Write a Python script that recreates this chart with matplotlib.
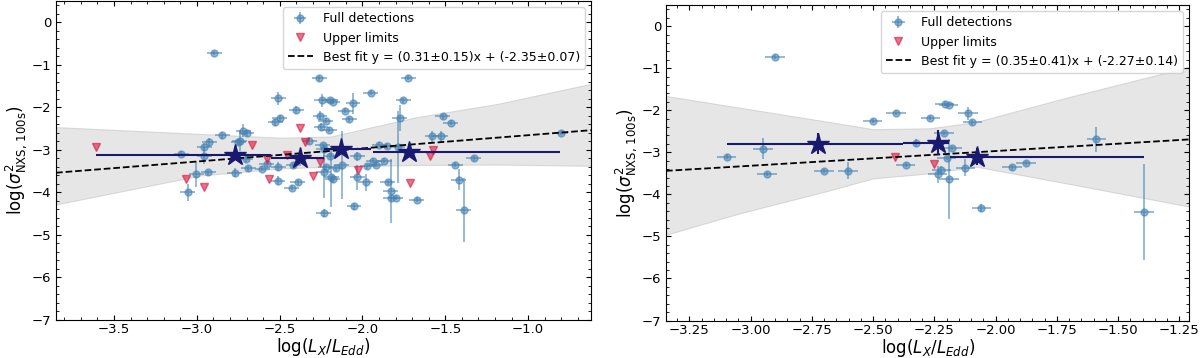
import numpy as np
import matplotlib.pyplot as plt
from matplotlib.ticker import AutoMinorLocator, MultipleLocator

# ---- left panel: full detections (log Lx/LEdd, log sigma2, yerr)
det1_x = [-2.894, -2.509, -2.40, -2.499, -2.527, -2.72, -2.847, -2.742, -2.70, -2.924,
          -2.955, -3.094, -2.955, -2.93, -3.003, -3.054, -2.77, -2.69, -2.705, -2.604,
          -2.578, -2.509, -2.51, -2.39, -2.428, -2.417, -2.32, -2.75, -2.26, -1.722,
          -1.95, -2.245, -2.193, -2.18, -2.057, -1.753, -2.256, -2.104, -2.08, -1.774,
          -1.514, -1.467, -2.25, -2.20, -1.58, -1.526, -0.801, -1.899, -1.85, -1.788,
          -2.233, -1.327, -1.439, -2.223, -2.193, -2.124, -2.03, -1.935, -1.868, -1.97,
          -1.92, -2.223, -2.16, -2.233, -2.189, -2.18, -2.03, -1.98, -1.848, -1.83,
          -1.83, -1.80, -1.672, -1.419, -1.388, -2.051, -2.233, -2.239]
det1_y = [-0.72, -1.79, -2.06, -2.26, -2.36, -2.55, -2.66, -2.79, -2.61, -2.83,
          -2.94, -3.10, -3.14, -3.53, -3.57, -4.00, -3.54, -3.44, -3.22, -3.45,
          -3.33, -3.40, -3.73, -3.77, -3.90, -3.37, -2.79, -2.83, -1.32, -1.31,
          -1.66, -1.84, -1.84, -1.87, -1.91, -1.84, -2.20, -2.08, -2.29, -2.26,
          -2.21, -2.37, -2.47, -2.53, -2.69, -2.69, -2.61, -2.88, -2.92, -2.94,
          -2.98, -3.20, -3.36, -2.32, -3.14, -3.37, -3.16, -3.26, -3.26, -3.39,
          -3.36, -3.41, -3.44, -3.53, -3.65, -3.69, -3.65, -3.77, -3.77, -3.98,
          -4.14, -4.13, -4.18, -3.71, -4.42, -4.33, -4.49, -2.90]
det1_yerr = [0.05, 0.15, 0.08, 0.08, 0.08, 0.15, 0.08, 0.25, 0.08, 0.10,
             0.10, 0.06, 0.20, 0.06, 0.30, 0.20, 0.10, 0.06, 0.08, 0.06,
             0.08, 0.10, 0.10, 0.06, 0.06, 0.06, 0.08, 0.06, 0.06, 0.06,
             0.06, 0.15, 0.06, 0.06, 0.25, 0.06, 0.10, 0.06, 0.06, 0.30,
             0.06, 0.06, 0.10, 0.06, 0.12, 0.12, 0.04, 0.06, 0.06, 0.85,
             0.10, 0.06, 0.06, 0.06, 0.06, 0.80, 0.10, 0.06, 0.06, 0.06,
             0.06, 0.06, 0.06, 0.60, 0.70, 0.10, 0.30, 0.20, 0.06, 0.75,
             0.06, 0.06, 0.06, 0.25, 0.75, 0.08, 0.10, 0.06]
ul1_x = [-3.607, -3.064, -2.959, -2.665, -2.375, -2.576, -2.564, -2.456, -2.347, -2.254,
         -2.296, -2.027, -1.713, -1.574, -1.59]
ul1_y = [-2.94, -3.70, -3.87, -2.88, -2.48, -3.22, -3.69, -3.12, -2.83, -3.28,
         -3.63, -3.48, -3.79, -3.00, -3.14]
bin1_x = [-2.77, -2.378, -2.132, -1.716]
bin1_y = [-3.13, -3.19, -2.98, -3.06]
bin1_lo = [-3.607, -2.55, -2.23, -1.935]
bin1_hi = [-2.55, -2.23, -1.95, -0.807]
band1_x = [-3.85, -2.98, -2.49, -2.19, -1.68, -1.18, -0.62]
band1_up = [-2.47, -2.63, -2.72, -2.69, -2.24, -1.92, -1.45]
band1_lo = [-4.29, -3.61, -3.44, -3.40, -3.36, -3.35, -3.38]
fit1 = (0.31, 0.15, -2.35, 0.07)

# ---- right panel
det2_x = [-2.901, -3.098, -2.948, -2.934, -2.70, -2.602, -2.502, -2.407, -2.266, -2.326,
          -2.367, -2.237, -2.208, -2.192, -2.113, -2.095, -2.21, -2.176, -2.20, -2.221,
          -2.19, -2.123, -2.058, -1.932, -1.877, -1.589, -1.395]
det2_y = [-0.73, -3.10, -2.92, -3.52, -3.44, -3.44, -2.26, -2.06, -2.19, -2.78,
          -3.30, -3.52, -1.84, -1.88, -2.07, -2.29, -2.55, -2.89, -3.14, -3.42,
          -3.63, -3.37, -4.33, -3.36, -3.25, -2.69, -4.42]
det2_yerr = [0.04, 0.05, 0.25, 0.05, 0.05, 0.20, 0.05, 0.05, 0.05, 0.10,
             0.05, 0.20, 0.05, 0.05, 0.15, 0.05, 0.05, 0.05, 0.05, 0.10,
             0.95, 0.20, 0.10, 0.05, 0.05, 0.30, 1.15]
ul2_x = [-2.41, -2.252]
ul2_y = [-3.12, -3.28]
bin2_x = [-2.724, -2.235, -2.076]
bin2_y = [-2.80, -2.77, -3.10]
bin2_yerr = [0.25, 0.30, 0.20]
bin2_lo = [-3.098, -2.377, -2.187]
bin2_hi = [-2.377, -2.19, -1.395]
band2_x = [-3.345, -3.044, -2.70, -2.50, -2.27, -2.08, -1.71, -1.21]
band2_up = [-1.66, -1.94, -2.26, -2.45, -2.43, -2.28, -1.70, -0.97]
band2_lo = [-4.96, -4.45, -3.94, -3.62, -3.50, -3.34, -3.74, -4.29]
fit2 = (0.35, 0.41, -2.27, 0.14)

det_col = 'steelblue'
ul_col = 'crimson'
star_col = '#191970'


def panel(ax, dx, dy, dyerr, xerr, ux, uy, bx, by, byerr, blo, bhi,
          bandx, bandup, bandlo, fit, xlim, xmaj):
    a, sa, b, sb = fit
    ax.fill_between(bandx, bandlo, bandup, color='lightgray', alpha=0.55,
                    edgecolor='silver', lw=0.8, zorder=1)
    h1 = ax.errorbar(dx, dy, xerr=xerr, yerr=dyerr, fmt='o', color=det_col, alpha=0.6,
                     ms=5, elinewidth=1.3, capsize=0, zorder=2)
    h2, = ax.plot(ux, uy, 'v', color=ul_col, alpha=0.6, ms=5.5, ls='none', zorder=3)
    xx = np.array(xlim)
    h3, = ax.plot(xx, a * xx + b, '--', color='black', lw=1.3, zorder=4)
    bx = np.array(bx)
    xe = [bx - np.array(blo), np.array(bhi) - bx]
    ax.errorbar(bx, by, xerr=xe, yerr=byerr, fmt='*', color=star_col, ms=16,
                elinewidth=1.5, capsize=0, zorder=5)
    ax.set_xlim(xlim)
    ax.set_ylim(-7, 0.5)
    ax.xaxis.set_major_locator(MultipleLocator(xmaj))
    ax.yaxis.set_major_locator(MultipleLocator(1))
    ax.xaxis.set_minor_locator(AutoMinorLocator())
    ax.yaxis.set_minor_locator(AutoMinorLocator())
    ax.tick_params(which='both', direction='in', top=True, right=True, labelsize=9.5)
    ax.tick_params(axis='x', pad=2.5)
    ax.set_xlabel(r'$\log(L_X/L_{Edd})$', fontsize=12, labelpad=0)
    ax.set_ylabel(r'$\log(\sigma^2_{\rm NXS,\,100s})$', fontsize=12, labelpad=2)
    ax.legend([h1, h2, h3],
              ['Full detections', 'Upper limits',
               'Best fit y = (%.2f\u00b1%.2f)x + (%.2f\u00b1%.2f)' % (a, sa, b, sb)],
              loc='upper right', fontsize=9)


fig = plt.figure(figsize=(12, 3.58), dpi=100)
ax1 = fig.add_axes([0.0467, 0.1075, 0.4458, 0.8897])
ax2 = fig.add_axes([0.555, 0.1047, 0.436, 0.881])

panel(ax1, det1_x, det1_y, det1_yerr, 0.045, ul1_x, ul1_y, bin1_x, bin1_y, 0.08,
      bin1_lo, bin1_hi, band1_x, band1_up, band1_lo, fit1, (-3.85, -0.62), 0.5)
panel(ax2, det2_x, det2_y, det2_yerr, 0.04, ul2_x, ul2_y, bin2_x, bin2_y, bin2_yerr,
      bin2_lo, bin2_hi, band2_x, band2_up, band2_lo, fit2, (-3.345, -1.21), 0.25)

fig.savefig('out.png', dpi=100)
